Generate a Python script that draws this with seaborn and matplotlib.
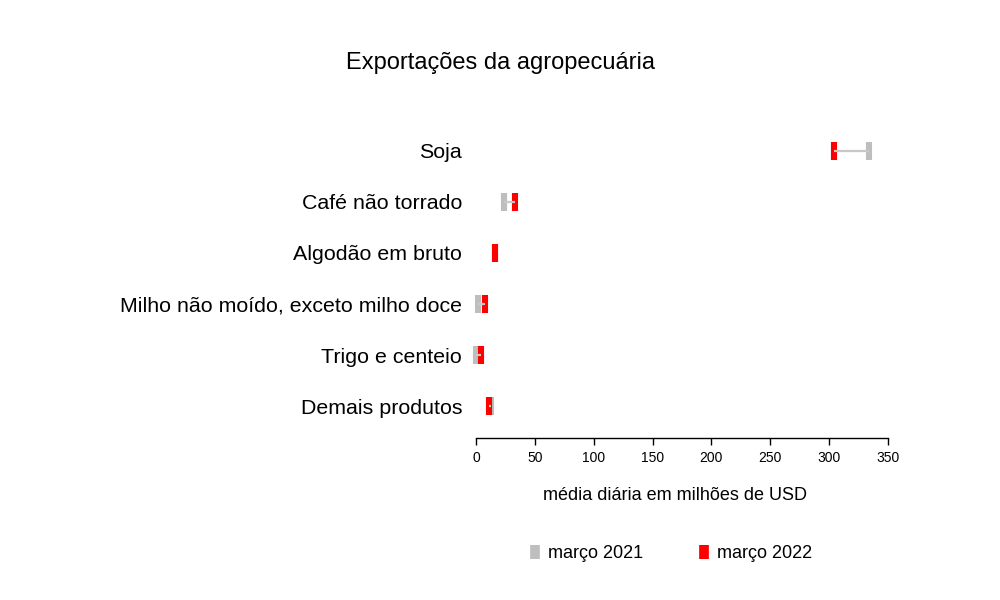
import numpy as np
import pandas as pd
import seaborn as sns
import matplotlib
matplotlib.use("Agg")
import matplotlib.pyplot as plt
from matplotlib.lines import Line2D

# dados (média diária, milhões de USD)
produtos = ["Soja", "Café não torrado", "Algodão em bruto",
            "Milho não moído, exceto milho doce", "Trigo e centeio", "Demais produtos"]
mar_2021 = [334, 23.5, 16, 2, 0, 13]
mar_2022 = [304, 33, 16, 8, 4.5, 11]
periodos = ["março 2021", "março 2022"]
cores = {"março 2021": "#BEBEBE", "março 2022": "#FF0000"}

sns.set_theme(style="white")
plt.rcParams['font.family'] = ['Liberation Sans', 'DejaVu Sans']
plt.rcParams['text.color'] = 'black'

df = pd.DataFrame({
    "produto": produtos * 2,
    "valor": mar_2021 + mar_2022,
    "periodo": [periodos[0]] * len(produtos) + [periodos[1]] * len(produtos),
})

fig = plt.figure(figsize=(10, 6), dpi=100)
ax = fig.add_axes([0.476, 0.27, 0.412, 0.5317])

sns.scatterplot(data=df, x="valor", y="produto", hue="periodo", palette=cores,
                marker="|", s=170, linewidth=4.4, legend=False, ax=ax,
                clip_on=False, zorder=3)
ypos = np.arange(len(produtos))
ax.hlines(ypos, mar_2021, mar_2022, color="#C8C8C8", linewidth=1.6, zorder=4)

ax.set_xlim(0, 350)
ax.set_ylim(len(produtos) - 1 + 0.627, -0.627)
ax.set_xticks(np.arange(0, 351, 50))
ax.tick_params(axis="x", labelsize=10, length=5, width=1, direction="out",
               bottom=True, pad=4, colors="black")
ax.tick_params(axis="y", labelsize=15.4, length=0, pad=10, colors="black")
for s in ["top", "right", "left"]:
    ax.spines[s].set_visible(False)
ax.spines["bottom"].set_color("black")
ax.spines["bottom"].set_linewidth(1)
ax.set_ylabel("")
ax.set_xlabel("média diária em milhões de USD", fontsize=13, color="black")
ax.xaxis.set_label_coords(0.483, -0.155)

fig.suptitle("Exportações da agropecuária", fontsize=17, x=0.5, y=0.895,
             va="center", color="black")

handles = [Line2D([], [], marker="|", linestyle="", markersize=10, markeredgewidth=7,
                  color=cores[p]) for p in periodos]
fig.legend(handles, periodos, loc="center", bbox_to_anchor=(0.669, 0.077), ncol=2,
           frameon=False, fontsize=13, columnspacing=2.9, handletextpad=0.2,
           handlelength=1, labelcolor="black")

fig.savefig("out.png", dpi=100)
